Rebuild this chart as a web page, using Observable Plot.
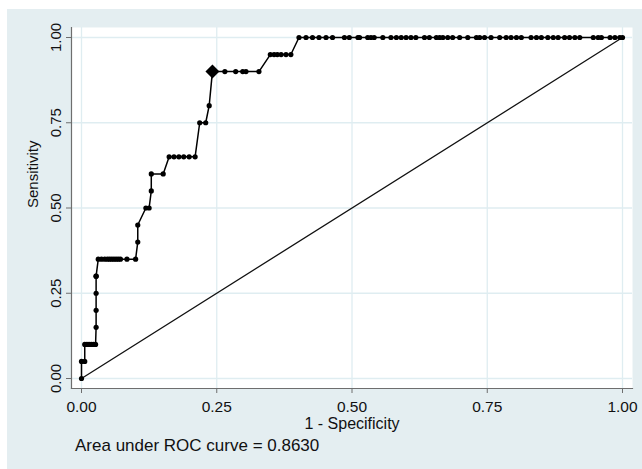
<!DOCTYPE html>
<html>
<head>
<meta charset="utf-8">
<script src="https://cdn.jsdelivr.net/npm/d3@7"></script>
<script src="https://cdn.jsdelivr.net/npm/@observablehq/plot@0.6"></script>
<style>
  html, body { margin: 0; padding: 0; background: #ffffff; }
  #chart { position: absolute; left: 7px; top: 9px; width: 635px; height: 460px; background: #e4eef1; overflow: hidden; }
  #chart svg { position: absolute; left: 0; top: 0; }
  #caption { position: absolute; left: 68px; top: 428px; font-family: "Liberation Sans", Arial, sans-serif; font-size: 17px; line-height: 17px; color: #111; white-space: nowrap; }
</style>
</head>
<body>
<div id="chart"><div id="caption"></div></div>
<script>
// ROC curve points: 1 - specificity (x) and sensitivity (y)
const fpr = [
  0, 0, 0.006, 0.006, 0.010, 0.014, 0.018, 0.022, 0.026, 0.027,
  0.027, 0.027, 0.027, 0.027, 0.031, 0.037, 0.043, 0.048, 0.052, 0.056,
  0.060, 0.064, 0.068, 0.072, 0.084, 0.100, 0.104, 0.104, 0.119, 0.125,
  0.129, 0.129, 0.151, 0.162, 0.171, 0.180, 0.189, 0.199, 0.210, 0.2185,
  0.2296, 0.236, 0.242, 0.265, 0.285, 0.298, 0.304, 0.328, 0.349, 0.356,
  0.362, 0.369, 0.378, 0.387, 0.402, 0.415, 0.427, 0.439, 0.452, 0.464,
  0.486, 0.495, 0.511, 0.514, 0.529, 0.535, 0.541, 0.557, 0.572, 0.582,
  0.591, 0.600, 0.609, 0.618, 0.634, 0.643, 0.656, 0.662, 0.668, 0.677,
  0.686, 0.699, 0.714, 0.730, 0.736, 0.745, 0.757, 0.773, 0.785, 0.794,
  0.804, 0.813, 0.831, 0.841, 0.850, 0.862, 0.872, 0.881, 0.893, 0.902,
  0.912, 0.921, 0.946, 0.955, 0.961, 0.977, 0.986, 0.995, 1.0
];
const tpr = [
  0, 0.05, 0.05, 0.10, 0.10, 0.10, 0.10, 0.10, 0.10, 0.15,
  0.20, 0.25, 0.30, 0.30, 0.35, 0.35, 0.35, 0.35, 0.35, 0.35,
  0.35, 0.35, 0.35, 0.35, 0.35, 0.35, 0.40, 0.45, 0.50, 0.50,
  0.55, 0.60, 0.60, 0.65, 0.65, 0.65, 0.65, 0.65, 0.65, 0.75,
  0.75, 0.80, 0.90, 0.90, 0.90, 0.90, 0.90, 0.90, 0.95, 0.95,
  0.95, 0.95, 0.95, 0.95, 1, 1, 1, 1, 1, 1,
  1, 1, 1, 1, 1, 1, 1, 1, 1, 1,
  1, 1, 1, 1, 1, 1, 1, 1, 1, 1,
  1, 1, 1, 1, 1, 1, 1, 1, 1, 1,
  1, 1, 1, 1, 1, 1, 1, 1, 1, 1,
  1, 1, 1, 1, 1, 1, 1, 1, 1
];
// optimal cut point
const cutX = [0.242];
const cutY = [0.90];
// reference diagonal
const diagX = [0, 1];
const diagY = [0, 1];
const ticks = [0, 0.25, 0.5, 0.75, 1];
const xTitle = "1 - Specificity";
const yTitle = "Sensitivity";
const captionText = "Area under ROC curve = 0.8630";

const idx = fpr.map((d, i) => i);
const fmt = d3.format(".2f");
const gridColor = "#dfedf1";
const axisColor = "#6e6e6e";

const chart = Plot.plot({
  width: 635,
  height: 415,
  marginLeft: 64,
  marginRight: 10,
  marginTop: 18,
  marginBottom: 36,
  x: {domain: [0, 1], inset: 10, label: null},
  y: {domain: [0, 1], inset: 10, label: null},
  style: {background: "transparent", fontFamily: "'Liberation Sans', Arial, sans-serif", fontSize: "15px", color: "#111", overflow: "visible"},
  marks: [
    Plot.frame({fill: "white", stroke: null}),
    Plot.gridX(ticks, {stroke: gridColor, strokeOpacity: 1, strokeWidth: 1.3}),
    Plot.gridY(ticks, {stroke: gridColor, strokeOpacity: 1, strokeWidth: 1.3}),
    Plot.frame({anchor: "left", stroke: axisColor, strokeWidth: 1.2}),
    Plot.frame({anchor: "bottom", stroke: axisColor, strokeWidth: 1.2}),
    Plot.axisX(ticks, {tickSize: 5, tickPadding: 7, tickFormat: fmt, stroke: axisColor, fill: "#111", fontSize: 15.5, label: null}),
    Plot.axisY(ticks, {tickSize: 5, tickPadding: 6, tickRotate: -90, tickFormat: fmt, stroke: axisColor, fill: "#111", fontSize: 15, label: null}),
    Plot.line(diagX.map((d, i) => i), {x: i => diagX[i], y: i => diagY[i], stroke: "#111", strokeWidth: 1.3}),
    Plot.line(idx, {x: i => fpr[i], y: i => tpr[i], stroke: "#000", strokeWidth: 1.5}),
    Plot.dot(idx, {x: i => fpr[i], y: i => tpr[i], r: 2.6, fill: "#000", stroke: null}),
    Plot.dot(cutX.map((d, i) => i), {x: i => cutX[i], y: i => cutY[i], symbol: "diamond2", r: 6.3, fill: "#000", stroke: null}),
    Plot.text([xTitle], {frameAnchor: "bottom", dy: 40.5, lineAnchor: "bottom", fontSize: 16, fill: "#111"}),
    Plot.text([yTitle], {frameAnchor: "left", dx: -33.5, rotate: -90, lineAnchor: "bottom", fontSize: 15, fill: "#111"})
  ]
});
chart.setAttribute("height", 460);
chart.setAttribute("viewBox", "0 0 635 460");
const container = document.getElementById("chart");
container.insertBefore(chart, container.firstChild);
document.getElementById("caption").textContent = captionText;
</script>
</body>
</html>
